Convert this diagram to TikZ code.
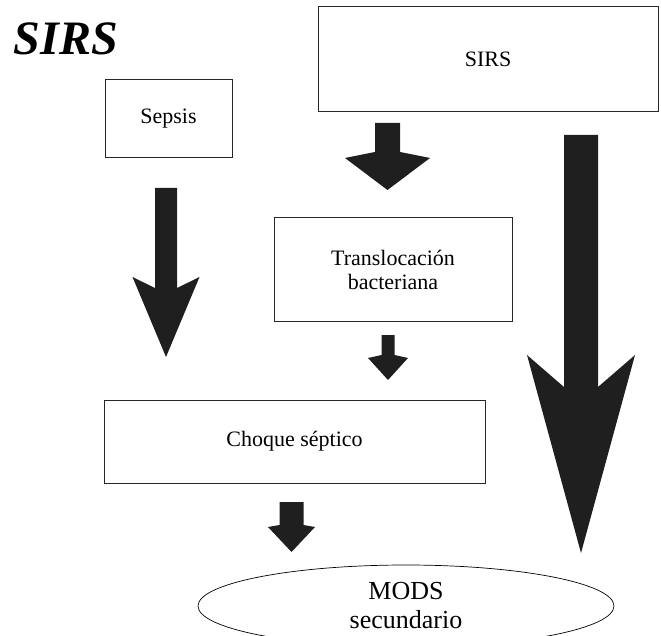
\documentclass[tikz,border=0pt]{standalone}
\usepackage{fontspec}
\setmainfont{Liberation Serif}
\usetikzlibrary{calc,shapes.geometric}

% fat block arrow: top, tip, shaft half width, wing half width, wing height, neck height
\newcommand{\fatarrow}[6]{%
  \fill[arrowfill] let \p1=(#1), \p2=(#2) in
    (\x1-#3pt,\y1) -- (\x1+#3pt,\y1) -- (\x1+#3pt,\y2+#6pt) -- (\x1+#4pt,\y2+#5pt)
    -- (\x2,\y2) -- (\x1-#4pt,\y2+#5pt) -- (\x1-#3pt,\y2+#6pt) -- cycle;}

\begin{document}
\begin{tikzpicture}
[x=1pt,y=-1pt,
 every node/.style={inner sep=0pt, font=\fontsize{22}{24}\selectfont},
 box/.style={draw=black!85, line width=1pt, align=center},
 arrowfill/.style={fill=black!88}]
\useasboundingbox (0,0) rectangle (661,636);
\clip (0,0) rectangle (661,636);

\node[font=\fontsize{48}{48}\selectfont\bfseries\itshape, anchor=base] (title) at (66,55) {SIRS};

\node[box, minimum width=340pt, minimum height=105pt] (sirs) at (488,59.5) {SIRS};
\node[box, minimum width=127pt, minimum height=78pt] (sepsis) at (168.5,119) {Sepsis};
\node[box, minimum width=238pt, minimum height=103pt] (transloc) at (393,269.5) {Translocación\\bacteriana};
\node[box, minimum width=381pt, minimum height=83pt] (choque) at (294.5,441.5) {Choque séptico};
\node[ellipse, draw=black, line width=0.7pt, minimum width=416pt, minimum height=82pt,
      align=center, font=\fontsize{26}{29}\selectfont] (mods) at (406,606) {MODS\\secundario};

% arrow ends
\coordinate (sepsis-out) at (166,188);   \coordinate (choque-in1) at (166,357);
\coordinate (sirs-out1) at (387.5,123);  \coordinate (transloc-in) at (387.5,190);
\coordinate (transloc-out) at (388,335); \coordinate (choque-in2) at (388,380);
\coordinate (choque-out) at (291.5,502); \coordinate (mods-in1) at (291.5,552);
\coordinate (sirs-out2) at (581,135);    \coordinate (mods-in2) at (581,553);

\foreach \from/\to/\sw/\ww/\wh/\nh in {sepsis-out/choque-in1/11/33.5/80/69,
    sirs-out1/transloc-in/12.5/42.5/32/38,
    transloc-out/choque-in2/6.5/20/22/25,
    choque-out/mods-in1/12/23.5/25/27,
    sirs-out2/mods-in2/17/54/198/166}
  \fatarrow{\from}{\to}{\sw}{\ww}{\wh}{\nh};
\end{tikzpicture}
\end{document}
